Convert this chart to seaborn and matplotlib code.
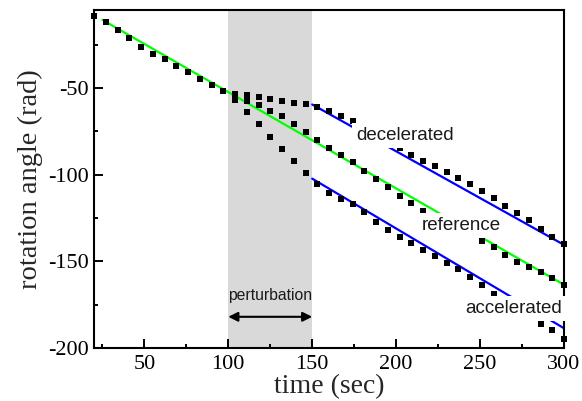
import numpy as np
import pandas as pd
import matplotlib
matplotlib.use("Agg")
import matplotlib.pyplot as plt
from matplotlib.ticker import MultipleLocator
import seaborn as sns

# Sampling times (s)
time = [20, 27, 34, 41, 48, 55, 62, 69, 76, 83, 90, 97,
        104, 111, 118, 125, 132, 139, 146, 153, 160, 167, 174, 181,
        188, 195, 202, 209, 216, 223, 230, 237, 244, 251, 258, 265,
        272, 279, 286, 293, 300]

# Common trajectory before the perturbation (t < 100 s)
angle_before = [-8.2, -12.1, -16.4, -21.4, -26.2, -30.2, -33.5, -37.1,
                -41.0, -44.8, -48.3, -51.5]

# Trajectories from t = 104 s on
angle_decelerated = [-53.3, -54.0, -55.2, -56.1, -57.5, -58.4, -59.4, -60.7,
                     -63.4, -66.1, -69.0, -72.5, -76.5, -80.5, -84.8, -88.7,
                     -92.0, -95.0, -98.4, -102.1, -105.2, -109.4, -113.4,
                     -117.8, -122.2, -126.4, -131.4, -136.2, -140.0]
angle_reference = [-54.8, -57.5, -59.9, -63.2, -66.3, -70.5, -75.3, -80.1,
                   -84.8, -88.4, -92.5, -97.6, -102.6, -107.2, -112.1, -116.4,
                   -120.9, -124.8, -128.8, -132.6, -134.5, -138.0, -141.9,
                   -146.1, -150.1, -153.2, -156.1, -159.5, -163.8]
angle_accelerated = [-56.8, -64.1, -71.0, -78.2, -85.2, -92.1, -99.2, -105.4,
                     -110.5, -113.8, -117.0, -121.8, -127.2, -132.0, -136.0,
                     -139.3, -143.3, -147.1, -150.9, -154.6, -159.0, -163.8,
                     -168.7, -173.0, -177.5, -181.8, -186.0, -189.7, -194.6]

# Linear fits (end points)
fit_ref_time = [25, 300]
fit_ref_angle = [-10.7, -163.5]
fit_dec_time = [150, 300]
fit_dec_angle = [-59.5, -140.5]
fit_acc_time = [150, 300]
fit_acc_angle = [-102.3, -188.6]

perturbation = [100, 150]

n_before = len(angle_before)
rows = []
for t, a in zip(time[:n_before], angle_before):
    rows.append(("reference", t, a))
for name, series in (("decelerated", angle_decelerated),
                     ("reference", angle_reference),
                     ("accelerated", angle_accelerated)):
    for t, a in zip(time[n_before:], series):
        rows.append((name, t, a))
points = pd.DataFrame(rows, columns=["run", "time", "angle"])

fits = pd.concat([
    pd.DataFrame({"fit": "ref", "time": fit_ref_time, "angle": fit_ref_angle}),
    pd.DataFrame({"fit": "dec", "time": fit_dec_time, "angle": fit_dec_angle}),
    pd.DataFrame({"fit": "acc", "time": fit_acc_time, "angle": fit_acc_angle}),
])

sns.set_style("ticks")
plt.rcParams["font.family"] = ["Liberation Serif", "DejaVu Serif"]
plt.rcParams["axes.unicode_minus"] = False

fig = plt.figure(figsize=(5.82, 4.01), dpi=100)
ax = fig.add_axes([94 / 582, 53 / 401, 470 / 582, 338 / 401])

ax.axvspan(*perturbation, color="#d9d9d9", lw=0, zorder=0)

sns.lineplot(data=fits, x="time", y="angle", hue="fit",
             palette={"ref": "#00ff00", "dec": "#0000ff", "acc": "#0000ff"},
             estimator=None, sort=False, lw=1.6, legend=False, ax=ax, zorder=2)

sns.scatterplot(data=points, x="time", y="angle", marker="s", color="black",
                s=20, linewidth=0, legend=False, ax=ax, zorder=3, clip_on=False)

ax.set_xlim(20, 300)
ax.set_ylim(-200, -5)
ax.xaxis.set_major_locator(MultipleLocator(50))
ax.xaxis.set_minor_locator(MultipleLocator(25))
ax.yaxis.set_major_locator(MultipleLocator(50))
ax.yaxis.set_minor_locator(MultipleLocator(25))
ax.tick_params(which="both", direction="in", width=1.4, top=False, right=False,
               labelsize=16, colors="black")
ax.tick_params(which="major", length=6.5)
ax.tick_params(which="minor", length=3)
ax.tick_params(axis="x", pad=5)
ax.tick_params(axis="y", pad=3.5)
for sp in ax.spines.values():
    sp.set_visible(True)
    sp.set_linewidth(1.5)
    sp.set_color("black")

ax.set_xlabel("time (sec)", fontsize=20, labelpad=0)
ax.set_ylabel("rotation angle (rad)", fontsize=20.5, labelpad=4)

sans = ["Liberation Sans", "DejaVu Sans"]
box = dict(facecolor="white", edgecolor="none", pad=3)
ax.text(205.3, -77.5, "decelerated", family=sans, fontsize=13.5,
        ha="center", va="center", bbox=box, zorder=5, color="#1a1a1a")
ax.text(238.6, -129.3, "reference", family=sans, fontsize=13.5,
        ha="center", va="center", bbox=box, zorder=5, color="#1a1a1a")
ax.text(269.7, -177.4, "accelerated", family=sans, fontsize=13.5,
        ha="center", va="center", bbox=box, zorder=5, color="#1a1a1a")

ax.text(125, -169.8, "perturbation", family=sans, fontsize=11.3,
        ha="center", va="center", color="#1a1a1a", zorder=5)
ax.annotate("", xy=(perturbation[0], -182), xytext=(perturbation[1], -182),
            arrowprops=dict(arrowstyle="<|-|>", color="black", lw=1.5,
                            mutation_scale=14, shrinkA=0, shrinkB=0),
            zorder=5)

fig.savefig("out.png", dpi=100)
